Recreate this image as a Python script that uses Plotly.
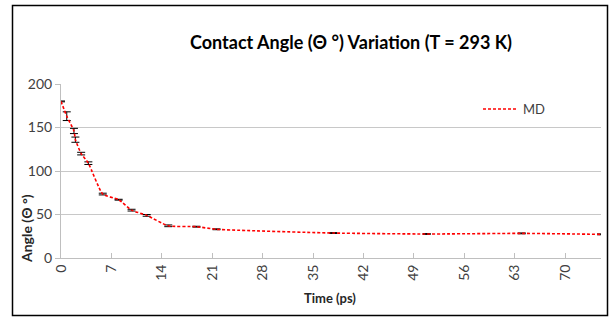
import plotly.graph_objects as go

time_ps = [0, 0.8, 1.8, 2.0, 2.8, 3.8, 5.8, 8.0, 9.8, 11.9, 14.9, 18.8, 21.6, 37.8, 50.8, 64.0, 75.0]
angle = [180, 163, 146, 136, 120, 109, 73.5, 67, 55, 49, 37, 36, 33, 28.7, 27.6, 28.3, 27.2]
err = [0.5, 5, 3, 3, 1.5, 1.5, 1, 0.5, 1, 1, 1, 0.5, 0.5, 0.5, 0.5, 0.5, 0.5]
xticks = [0, 7, 14, 21, 28, 35, 42, 49, 56, 63, 70]
yticks = [0, 50, 100, 150, 200]

L, R, T, B = 61, 8, 84, 62
W, H = 609, 320
pw, ph = W - L - R, H - T - B

def px(x):
    return (x - L) / pw

def py(y):
    return (H - B - y) / ph

fig = go.Figure()
fig.add_trace(go.Scatter(
    x=time_ps, y=angle, mode="lines", name="MD",
    line=dict(color="#ff0000", width=1.6, dash="3px,2px", shape="spline", smoothing=0.5),
    error_y=dict(type="data", array=err, color="#000000", thickness=1, width=4),
))

fig.update_layout(
    width=W, height=H,
    margin=dict(l=L, r=R, t=T, b=B),
    paper_bgcolor="white", plot_bgcolor="white",
    font=dict(family="Lato, Open Sans, sans-serif", color="#595959", size=12),
    showlegend=True,
    legend=dict(x=px(478), y=py(109), xanchor="left", yanchor="middle",
                bgcolor="rgba(0,0,0,0)", font=dict(size=13, color="#404040"),
                itemwidth=35),
    title=dict(text="<b>Contact Angle (Θ °) Variation (T = 293 K)</b>",
               x=351 / W, xanchor="center", y=1 - 43 / H, yanchor="middle",
               font=dict(size=18, color="#000000", family="Lato, Open Sans, sans-serif")),
    xaxis=dict(range=[0, 75], tickvals=xticks, tickangle=-90,
               showgrid=False, zeroline=False,
               showline=True, linecolor="#bfbfbf", linewidth=1,
               ticks="inside", ticklen=5, tickcolor="#bfbfbf",
               tickfont=dict(size=14, color="#404040")),
    yaxis=dict(range=[0, 200], tickvals=yticks,
               showgrid=True, gridcolor="#c8c8c8", gridwidth=1, zeroline=False,
               showline=True, linecolor="#bfbfbf", linewidth=1,
               ticks="outside", ticklen=5, tickcolor="#bfbfbf",
               tickfont=dict(size=14, color="#404040")),
    shapes=[dict(type="rect", xref="paper", yref="paper",
                 x0=px(12.5), x1=px(607.5), y0=py(315.5), y1=py(5.5),
                 line=dict(color="#000000", width=1.5), fillcolor="rgba(0,0,0,0)")],
    annotations=[
        dict(text="<b>Time (ps)</b>", xref="paper", yref="paper",
             x=px(330), y=py(298), xanchor="center", yanchor="middle",
             showarrow=False, font=dict(size=13, color="#262626")),
        dict(text="<b>Angle (Θ °)</b>", xref="paper", yref="paper",
             x=px(26), y=py(229), xanchor="center", yanchor="middle",
             textangle=-90, showarrow=False, font=dict(size=14, color="#262626")),
    ],
)

fig.write_html("out.html")
